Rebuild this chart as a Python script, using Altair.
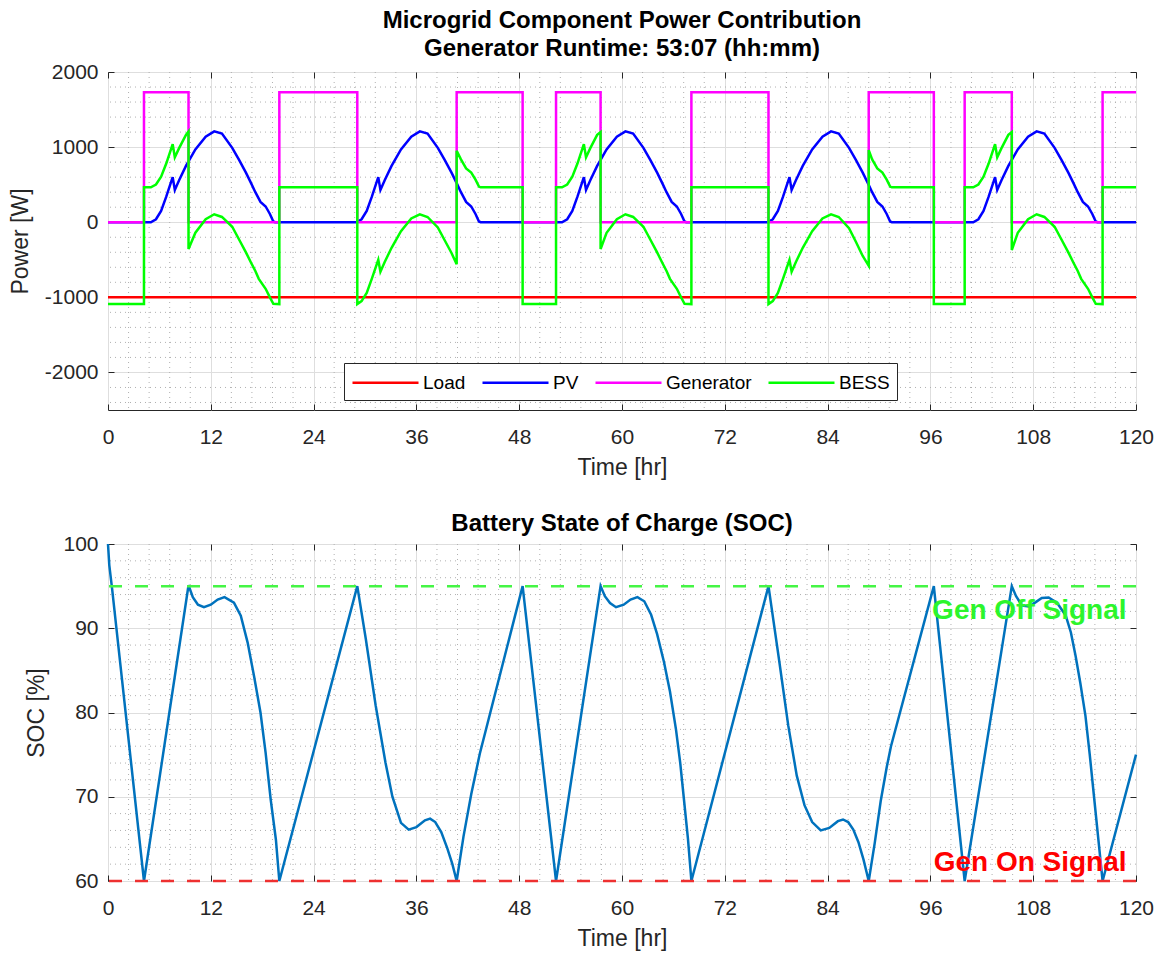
import altair as alt
import pandas as pd

# ---------------- data ----------------
load_t = [0, 120]
load_w = [-1000, -1000]

gen_t = [0, 4.2, 4.2, 9.4, 9.4, 20.0, 20.0, 29.1, 29.1, 40.7, 40.7, 48.4, 48.4,
         52.3, 52.3, 57.5, 57.5, 68.1, 68.1, 77.1, 77.1, 88.8, 88.8, 96.4, 96.4,
         100.0, 100.0, 105.5, 105.5, 116.1, 116.1, 120]
gen_w = [0, 0, 1730, 1730, 0, 0, 1730, 1730, 0, 0, 1730, 1730, 0,
         0, 1730, 1730, 0, 0, 1730, 1730, 0, 0, 1730, 1730, 0,
         0, 1730, 1730, 0, 0, 1730, 1730]

pv_t = [0,
        5.0, 5.6, 6.2, 6.8, 7.55, 7.8, 8.3, 9.1, 10.2, 11.4, 12.4, 13.3, 14.5, 15.3, 16.1, 16.7, 17.2, 17.8, 18.4, 18.9, 19.3, 19.5,
        29.0, 29.6, 30.2, 30.8, 31.55, 31.8, 32.3, 33.1, 34.2, 35.4, 36.4, 37.3, 38.5, 39.3, 40.1, 40.7, 41.2, 41.8, 42.4, 42.9, 43.3, 43.5,
        53.0, 53.6, 54.2, 54.8, 55.55, 55.8, 56.3, 57.1, 58.2, 59.4, 60.4, 61.3, 62.5, 63.3, 64.1, 64.7, 65.2, 65.8, 66.4, 66.9, 67.3, 67.5,
        77.0, 77.6, 78.2, 78.8, 79.55, 79.8, 80.3, 81.1, 82.2, 83.4, 84.4, 85.3, 86.5, 87.3, 88.1, 88.7, 89.2, 89.8, 90.4, 90.9, 91.3, 91.5,
        101.0, 101.6, 102.2, 102.8, 103.55, 103.8, 104.3, 105.1, 106.2, 107.4, 108.4, 109.3, 110.5, 111.3, 112.1, 112.7, 113.2, 113.8, 114.4, 114.9, 115.3, 115.5,
        120]
pv_w = [0,
        0, 40, 150, 340, 600, 430, 560, 750, 970, 1140, 1210, 1180, 990, 830, 660, 520, 400, 270, 210, 110, 10, 0,
        0, 40, 150, 340, 600, 430, 560, 750, 970, 1140, 1210, 1180, 990, 830, 660, 520, 400, 270, 210, 110, 10, 0,
        0, 40, 150, 340, 600, 430, 560, 750, 970, 1140, 1210, 1180, 990, 830, 660, 520, 400, 270, 210, 110, 10, 0,
        0, 40, 150, 340, 600, 430, 560, 750, 970, 1140, 1210, 1180, 990, 830, 660, 520, 400, 270, 210, 110, 10, 0,
        0, 40, 150, 340, 600, 430, 560, 750, 970, 1140, 1210, 1180, 990, 830, 660, 520, 400, 270, 210, 110, 10, 0,
        0]

bess_t = [0, 4.2, 4.2, 5.0, 5.6, 6.2, 6.8, 7.55, 7.8, 8.3, 9.1, 9.4, 9.4, 10.2, 11.4, 12.4, 13.3, 14.5, 15.3, 16.1, 16.7, 17.2, 17.6, 18.4, 18.9, 19.3, 20.0, 20.0,
          29.1, 29.1, 29.6, 30.2, 30.8, 31.55, 31.8, 32.3, 33.1, 34.2, 35.4, 36.4, 37.3, 38.5, 39.3, 40.1, 40.7, 40.7, 41.2, 41.8, 42.4, 42.9, 43.3, 43.5, 48.4, 48.4,
          52.3, 52.3, 53.0, 53.6, 54.2, 54.8, 55.55, 55.8, 56.3, 57.1, 57.5, 57.5, 58.2, 59.4, 60.4, 61.3, 62.5, 63.3, 64.1, 64.7, 65.2, 65.6, 66.4, 66.9, 67.3, 68.1, 68.1,
          77.1, 77.1, 77.6, 78.2, 78.8, 79.55, 79.8, 80.3, 81.1, 82.2, 83.4, 84.4, 85.3, 86.5, 87.3, 88.1, 88.8, 88.8, 89.2, 89.8, 90.4, 90.9, 91.3, 91.5, 96.4, 96.4,
          100.0, 100.0, 101.0, 101.6, 102.2, 102.8, 103.55, 103.8, 104.3, 105.1, 105.5, 105.5, 106.2, 107.4, 108.4, 109.3, 110.5, 111.3, 112.1, 112.7, 113.2, 113.6, 114.4, 114.9, 115.3, 116.1, 116.1, 120]
bess_w = [-1090, -1090, 465, 465, 502, 605, 781, 1040, 865, 986, 1163, 1209, -357, -140, 40, 106, 70, -60, -230, -401, -540, -650, -754, -886, -1000, -1085, -1090, 465,
          465, -1090, -1050, -940, -750, -500, -660, -530, -340, -120, 50, 106, 70, -70, -240, -410, -560, 950, 837, 716, 660, 567, 474, 465, 465, -1090,
          -1090, 465, 465, 502, 605, 781, 1040, 865, 986, 1163, 1200, -357, -140, 40, 106, 70, -60, -230, -401, -540, -650, -754, -886, -1000, -1085, -1090, 465,
          465, -1090, -1050, -940, -750, -500, -660, -530, -340, -120, 50, 106, 70, -80, -260, -450, -580, 960, 837, 716, 660, 567, 474, 465, 465, -1090,
          -1090, 465, 465, 502, 605, 781, 1040, 865, 986, 1163, 1200, -370, -140, 40, 106, 70, -60, -230, -401, -540, -650, -754, -886, -1000, -1085, -1090, 465, 465]

soc_t = [0, 0.15, 0.5, 4.2, 9.4, 9.9, 10.5, 11.2, 12.0, 12.8, 13.6, 14.7, 15.5, 16.3, 17.05, 17.8, 18.4, 19.0, 19.6, 20.0,
         29.1, 30.1, 31.25, 32.4, 33.2, 34.2, 35.1, 36.0, 37.0, 37.6, 38.2, 38.9, 39.6, 40.2, 40.7,
         41.5, 42.4, 43.4, 48.4, 52.3, 57.5, 58.0, 58.6, 59.3, 60.2, 61.0, 61.8, 62.6, 63.4, 64.1, 64.9, 65.6, 66.3, 66.8, 67.2, 67.7, 68.1,
         77.1, 78.3, 79.4, 80.4, 81.3, 82.2, 83.2, 84.2, 85.2, 85.8, 86.4, 87.0, 87.6, 88.2, 88.8,
         89.5, 90.2, 90.9, 91.4, 96.4, 100.0, 105.5, 106.0, 106.7, 107.5, 108.3, 109.0, 109.8, 110.8, 111.8, 112.4, 112.95, 113.5, 114.1, 114.6, 115.1, 115.6, 116.1, 120]
soc_v = [100, 97.5, 94.5, 60, 95.1, 93.7, 92.8, 92.5, 92.8, 93.4, 93.7, 93.05, 91.5, 88.3, 84.3, 80.0, 75.2, 69.6, 64.9, 60,
         95, 88.7, 80.8, 74.0, 70.0, 66.9, 66.1, 66.4, 67.2, 67.4, 67.0, 65.8, 63.9, 62.0, 60,
         65.3, 70.3, 75.1, 95, 60, 95, 93.8, 93.0, 92.5, 92.8, 93.4, 93.7, 93.2, 91.6, 89.3, 86.0, 82.5, 78.0, 74.0, 70.0, 65.0, 60,
         95, 86.5, 78.5, 72.5, 69.0, 67.0, 66.0, 66.3, 67.1, 67.3, 67.0, 66.1, 64.6, 62.5, 60,
         64.5, 69.5, 73.5, 76.0, 95, 60, 95, 93.8, 92.7, 92.6, 93.1, 93.6, 93.65, 93.0, 91.5, 89.5, 86.7, 83.5, 79.6, 75.0, 70.0, 65.0, 60, 75]

series_names = ["Load", "PV", "Generator", "BESS"]
series_colors = ["#ff0000", "#0000ff", "#ff00ff", "#00ff00"]

time_ticks = [0, 12, 24, 36, 48, 60, 72, 84, 96, 108, 120]
power_ticks = [-2000, -1000, 0, 1000, 2000]
soc_ticks = [60, 70, 80, 90, 100]

signal_levels = [95, 60]
signal_line_colors = ["#45f545", "#ee3030"]
signal_text = ["Gen Off Signal", "Gen On Signal"]
signal_text_t = [118.9, 118.9]
signal_text_v = [91.15, 61.2]
signal_text_colors = ["#2cf52c", "#ff0000"]

# minor (dotted) grid positions: five subdivisions of each major interval
time_minor = [i * 2.4 for i in range(1, 50) if i % 5]
power_minor = [-2400 + 200 * i for i in range(0, 23) if (-2400 + 200 * i) % 1000]
soc_minor = [60 + 2 * i for i in range(1, 20) if i % 5]

# ---------------- layout constants ----------------
W = 1028
H1 = 338
H2 = 337
FONT = "Liberation Sans"
INK = "#262626"
PLAIN = "'' + datum.value"

rows = []
for name, ts, ws in zip(series_names, [load_t, pv_t, gen_t, bess_t], [load_w, pv_w, gen_w, bess_w]):
    for i, (t, w) in enumerate(zip(ts, ws)):
        rows.append({"series": name, "t": t, "w": w, "i": i})
power_df = pd.DataFrame(rows)
soc_df = pd.DataFrame({"t": soc_t, "v": soc_v, "i": list(range(len(soc_t)))})
sig_df = pd.DataFrame({"level": signal_levels, "c": signal_line_colors})
txt_df = pd.DataFrame({"t": signal_text_t, "v": signal_text_v, "label": signal_text, "c": signal_text_colors})

xs = alt.Scale(domain=[0, 120], nice=False, zero=False)
yp = alt.Scale(domain=[-2500, 2000], nice=False, zero=False)
ys = alt.Scale(domain=[60, 100], nice=False, zero=False)


def label_axis_x():
    return alt.Axis(values=time_ticks, title="Time [hr]", grid=True, gridColor="#dedede", gridWidth=1,
                    tickSize=0, domain=False, labelFontSize=21, labelColor=INK, labelPadding=16,
                    labelFlush=False, labelOverlap=False, labelExpr=PLAIN, titleFontSize=23,
                    titleFontWeight="normal", titleColor=INK, titlePadding=9)


def label_axis_y(title, values, pad):
    return alt.Axis(values=values, title=title, grid=True, gridColor="#dedede", gridWidth=1,
                    tickSize=0, domain=False, labelFontSize=21, labelColor=INK, labelPadding=10,
                    labelFlush=False, labelOverlap=False, labelExpr=PLAIN, titleFontSize=23,
                    titleFontWeight="normal", titleColor=INK, titlePadding=pad)


def tick_axis(orient, offset, values):
    return alt.Axis(values=values, orient=orient, offset=offset, labels=False, grid=False, domain=False,
                    ticks=True, tickSize=6, tickColor=INK, tickWidth=1, title=None)


def minor_layers(yscale, ymajor, yminor, H):
    mx = alt.Chart(pd.DataFrame({"v": time_minor})).mark_rule(
        color="#b0b0b0", strokeDash=[1, 4], strokeWidth=1).encode(
        x=alt.X("v:Q", scale=xs, axis=tick_axis("top", -H, time_ticks)))
    my = alt.Chart(pd.DataFrame({"v": yminor})).mark_rule(
        color="#b0b0b0", strokeDash=[1, 4], strokeWidth=1).encode(
        y=alt.Y("v:Q", scale=yscale, axis=tick_axis("right", -W, ymajor)))
    return mx, my


# ---------------- top panel ----------------
mx1, my1 = minor_layers(yp, power_ticks, power_minor, H1)
lines = alt.Chart(power_df).mark_line(strokeWidth=2.5).encode(
    x=alt.X("t:Q", scale=xs, axis=label_axis_x()),
    y=alt.Y("w:Q", scale=yp, axis=label_axis_y("Power [W]", power_ticks, 12)),
    color=alt.Color("series:N", scale=alt.Scale(domain=series_names, range=series_colors),
                    legend=alt.Legend(orient="none", legendX=236, legendY=291, direction="horizontal",
                                      title=None, symbolType="M-3,0H3", symbolStrokeWidth=2.5,
                                      symbolSize=484, symbolOffset=22, labelOffset=25,
                                      labelFontSize=19, labelColor="#000000", labelFont=FONT,
                                      fillColor="white", strokeColor=INK, padding=7,
                                      columnPadding=11)),
    order="i:Q",
)
ghost1 = alt.Chart(pd.DataFrame({"t": load_t, "w": load_w})).mark_point(opacity=0).encode(
    x=alt.X("t:Q", scale=xs, axis=tick_axis("bottom", -H1, time_ticks)),
    y=alt.Y("w:Q", scale=yp, axis=tick_axis("left", -W, power_ticks)),
)
top = alt.layer(mx1, my1, lines, ghost1).resolve_axis(x="independent", y="independent").properties(
    width=W, height=H1,
    title=alt.Title(["Microgrid Component Power Contribution", "Generator Runtime: 53:07 (hh:mm)"],
                    fontSize=24, fontWeight="bold", color="#000000", lineHeight=28, anchor="middle",
                    offset=0, font=FONT),
)

# ---------------- bottom panel ----------------
mx2, my2 = minor_layers(ys, soc_ticks, soc_minor, H2)
soc_line = alt.Chart(soc_df).mark_line(strokeWidth=2.5, color="#0072bd").encode(
    x=alt.X("t:Q", scale=xs, axis=label_axis_x()),
    y=alt.Y("v:Q", scale=ys, axis=label_axis_y("SOC [%]", soc_ticks, 14)),
    order="i:Q",
)
sig_lines = alt.Chart(sig_df).mark_rule(strokeWidth=2.5, strokeDash=[13, 13]).encode(
    y=alt.Y("level:Q", scale=ys, axis=None),
    color=alt.Color("c:N", scale=None),
)
sig_text = alt.Chart(txt_df).mark_text(align="right", baseline="alphabetic", fontSize=28,
                                       fontWeight="bold", font=FONT).encode(
    x=alt.X("t:Q", scale=xs, axis=tick_axis("bottom", -H2, time_ticks)),
    y=alt.Y("v:Q", scale=ys, axis=tick_axis("left", -W, soc_ticks)),
    text="label:N",
    color=alt.Color("c:N", scale=None),
)
bottom = alt.layer(mx2, my2, soc_line, sig_lines, sig_text).resolve_axis(
    x="independent", y="independent").properties(
    width=W, height=H2,
    title=alt.Title("Battery State of Charge (SOC)", fontSize=24, fontWeight="bold", color="#000000",
                    anchor="middle", offset=-3, font=FONT),
)

chart = alt.vconcat(top, bottom, spacing=31).resolve_scale(color="independent").properties(
    padding={"left": 8, "top": 8, "right": 0, "bottom": 0},
    background="white",
).configure(font=FONT).configure_view(stroke=INK, strokeWidth=1)

chart.save("out.html", embed_options={"renderer": "svg", "actions": False})
